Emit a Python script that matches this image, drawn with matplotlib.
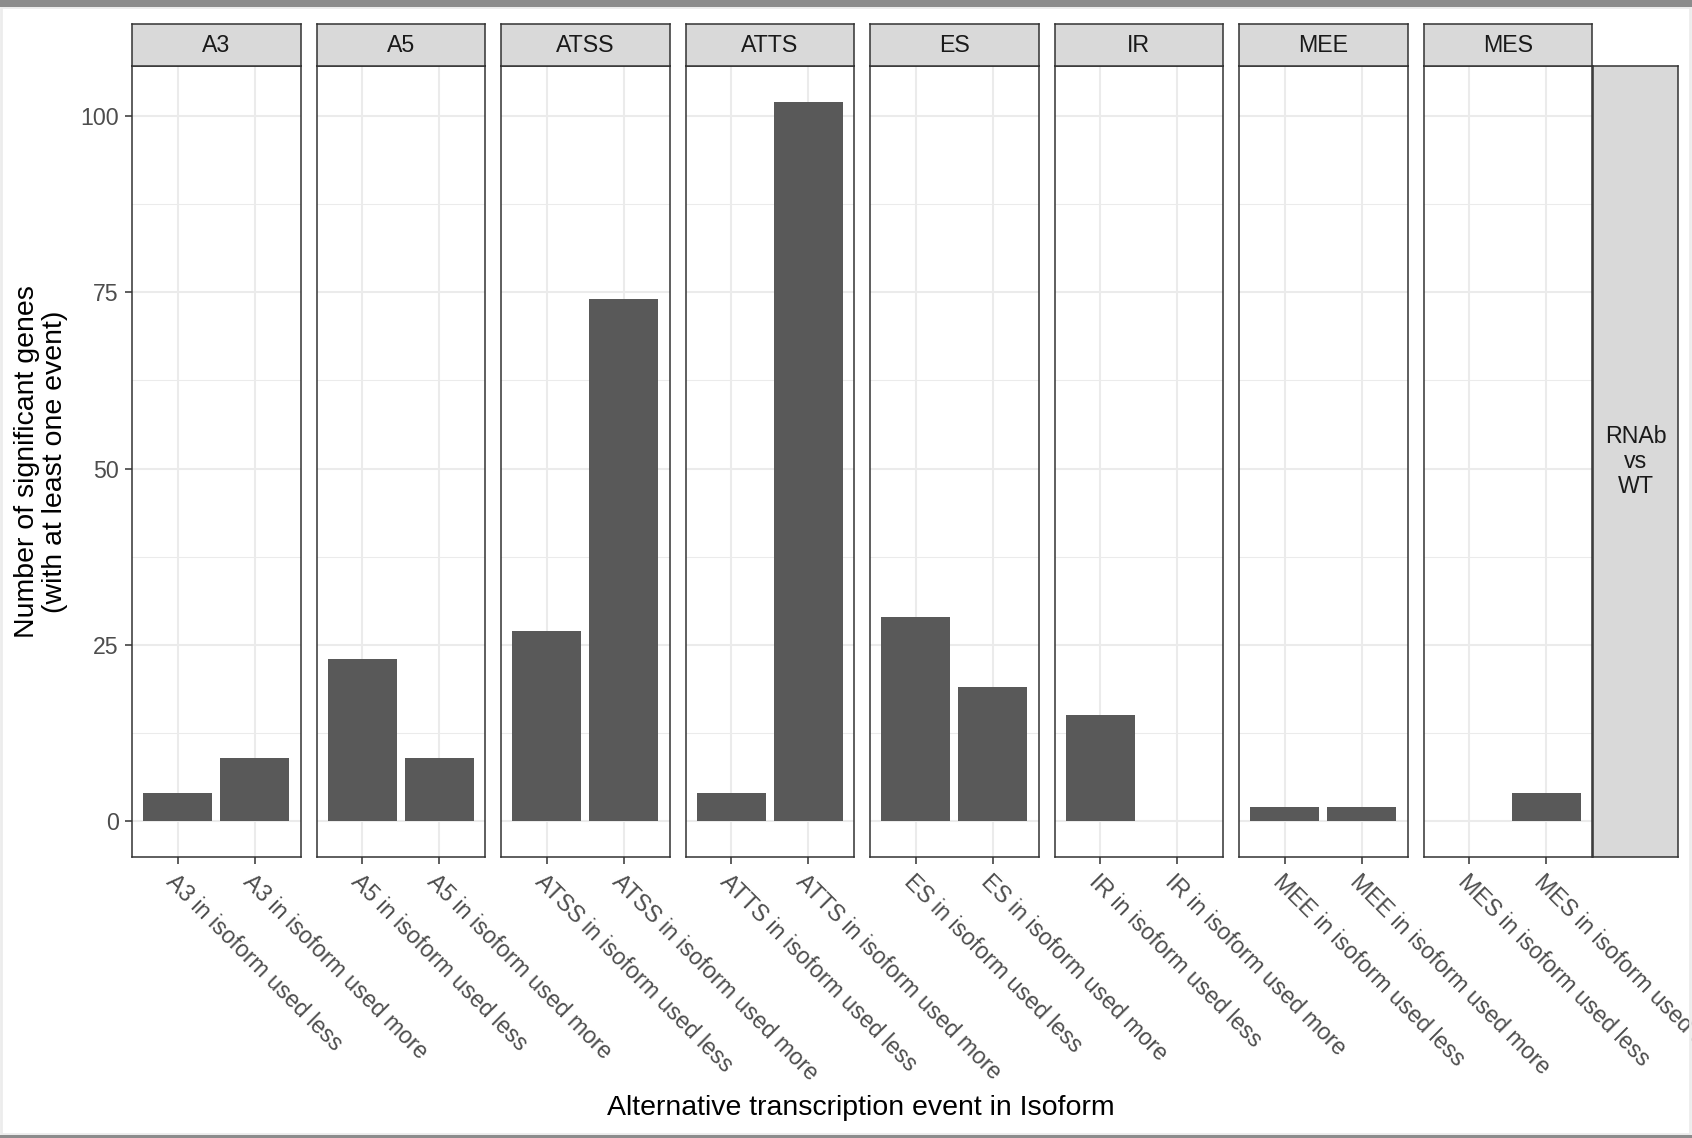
import matplotlib
matplotlib.use('Agg')
import matplotlib.pyplot as plt
from matplotlib.patches import Rectangle

# data
events = ['A3', 'A5', 'ATSS', 'ATTS', 'ES', 'IR', 'MEE', 'MES']
used_less = [4, 23, 27, 4, 29, 15, 2, 0]
used_more = [9, 9, 74, 102, 19, 0, 2, 4]
y_ticks = [0, 25, 50, 75, 100]
y_minor = [12.5, 37.5, 62.5, 87.5]
row_label = 'RNAb\nvs\nWT'
x_title = 'Alternative transcription event in Isoform'
y_title = 'Number of significant genes\n(with at least one event)'

W, H = 1692, 1138
plt.rcParams['font.family'] = ['Liberation Sans', 'DejaVu Sans']

BAR = '#595959'
GRID = '#ebebeb'
DARK = '#333333'
STRIP = '#d9d9d9'
TICKTXT = '#4d4d4d'
FS_TICK = 16.7
FS_TITLE = 20.5


def fx(px):
	return px / W


def fy(py):
	return 1 - py / H


fig = plt.figure(figsize=(W / 100, H / 100), dpi=100)

panel_left0 = 132
panel_w = 168.5
panel_step = 184.5
panel_top = 66
panel_bottom = 857
strip_top = 24

ymax = max(max(used_less), max(used_more))
pad = ymax * 0.05

for i, ev in enumerate(events):
	left = panel_left0 + i * panel_step
	ax = fig.add_axes([fx(left), fy(panel_bottom), panel_w / W, (panel_bottom - panel_top) / H])
	cats = [f'{ev} in isoform used less', f'{ev} in isoform used more']
	vals = [used_less[i], used_more[i]]
	ax.bar([1, 2], vals, width=0.9, color=BAR, linewidth=0, zorder=3)
	ax.set_xlim(0.4, 2.6)
	ax.set_ylim(-pad, ymax + pad)
	ax.set_xticks([1, 2])
	ax.set_xticklabels(cats, rotation=-45, ha='left', va='top',
					   rotation_mode='anchor', fontsize=FS_TICK, color=TICKTXT)
	ax.set_yticks(y_ticks)
	ax.set_yticks(y_minor, minor=True)
	ax.grid(True, which='major', color=GRID, linewidth=1.45, zorder=0)
	ax.grid(True, which='minor', axis='y', color=GRID, linewidth=0.75, zorder=0)
	ax.set_axisbelow(True)
	ax.tick_params(axis='x', length=5, width=1.1, color=DARK, pad=4.5)
	ax.tick_params(axis='y', which='minor', length=0)
	if i == 0:
		ax.tick_params(axis='y', which='major', length=5, width=1.1, color=DARK,
					   pad=4.5, labelsize=FS_TICK, labelcolor=TICKTXT)
	else:
		ax.tick_params(axis='y', which='major', length=0, labelleft=False)
	for sp in ax.spines.values():
		sp.set_color(DARK)
		sp.set_linewidth(1.1)
		sp.set_zorder(4)

	# facet strip on top
	sax = fig.add_axes([fx(left), fy(panel_top), panel_w / W, (panel_top - strip_top) / H])
	sax.set_facecolor(STRIP)
	sax.set_xticks([])
	sax.set_yticks([])
	for sp in sax.spines.values():
		sp.set_color(DARK)
		sp.set_linewidth(1.1)
	sax.text(0.5, 0.5, ev, ha='center', va='center', fontsize=FS_TICK,
			 color='#1a1a1a', transform=sax.transAxes)

# row strip on the right
rax = fig.add_axes([fx(1593), fy(panel_bottom), 85 / W, (panel_bottom - panel_top) / H])
rax.set_facecolor(STRIP)
rax.set_xticks([])
rax.set_yticks([])
for sp in rax.spines.values():
	sp.set_color(DARK)
	sp.set_linewidth(1.1)
rax.text(0.5, 0.5, row_label, ha='center', va='center', fontsize=FS_TICK,
		 color='#1a1a1a', linespacing=1.1, transform=rax.transAxes)

fig.text(fx(41), fy(462), y_title, rotation=90, ha='center', va='center',
		 fontsize=FS_TITLE, multialignment='center', linespacing=1.12)
fig.text(fx(861), fy(1115), x_title, ha='center', va='baseline', fontsize=FS_TITLE)

# window frame around the screenshot
fig.patches.append(Rectangle((0, fy(7)), 1, 7 / H, transform=fig.transFigure,
							 facecolor='#8c8c8c', edgecolor='none', zorder=10))
fig.patches.append(Rectangle((0, 0), 1, 3 / H, transform=fig.transFigure,
							 facecolor='#8c8c8c', edgecolor='none', zorder=10))
fig.patches.append(Rectangle((fx(1), fy(1134)), fx(1689), (1134 - 7) / H,
							 transform=fig.transFigure, facecolor='none',
							 edgecolor='#ececec', linewidth=2, zorder=9))

fig.savefig('out.png', dpi=100, facecolor='white')
